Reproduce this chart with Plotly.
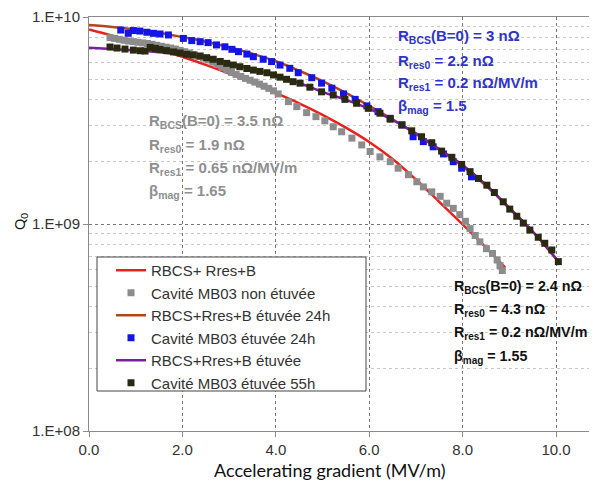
import plotly.graph_objects as go

# ---------------- data ----------------
fit_red_x = [0.0, 0.5, 1.0, 1.5, 2.0, 2.5, 3.0, 3.5, 4.0, 4.5, 5.0, 5.5, 6.0, 6.5, 7.0, 7.5, 8.0, 8.5, 8.91]
fit_red_q = [8.71e9, 8.13e9, 7.55e9, 6.98e9, 6.43e9, 5.87e9, 5.33e9, 4.81e9, 4.30e9, 3.83e9, 3.37e9, 2.92e9, 2.49e9, 2.06e9, 1.64e9, 1.28e9, 0.995e9, 0.769e9, 0.617e9]

gray_x = [0.45, 0.55, 0.65, 0.75, 0.85, 0.95, 1.05, 1.15, 1.25, 1.35, 1.45, 1.55, 1.65, 1.75,
          1.85, 1.95, 2.05, 2.15, 2.25, 2.35, 2.45, 2.55, 2.65, 2.75, 2.85, 2.95, 3.05, 3.15,
          3.25, 3.35, 3.45, 3.55, 3.65, 3.75, 3.85, 3.95, 4.05, 4.27, 4.45, 4.66, 4.86, 5.05,
          5.23, 5.41, 5.63, 5.84, 6.02, 6.23, 6.45, 6.62, 6.84, 7.02, 7.16, 7.34, 7.52, 7.66,
          7.80, 7.94, 8.06, 8.16, 8.27, 8.37, 8.51, 8.64, 8.74, 8.80, 8.85]
gray_q = [7.95e9, 7.88e9, 7.8e9, 7.72e9, 7.65e9, 7.6e9, 7.55e9, 7.5e9, 7.45e9, 7.38e9, 7.3e9, 7.22e9, 7.15e9, 7.08e9,
          7.0e9, 6.9e9, 6.8e9, 6.7e9, 6.58e9, 6.45e9, 6.33e9, 6.2e9, 6.05e9, 5.9e9, 5.72e9, 5.55e9, 5.4e9, 5.28e9,
          5.16e9, 5.05e9, 4.95e9, 4.85e9, 4.74e9, 4.63e9, 4.52e9, 4.40e9, 4.25e9, 3.90e9, 3.69e9, 3.45e9, 3.30e9, 3.15e9,
          2.95e9, 2.79e9, 2.60e9, 2.41e9, 2.24e9, 2.11e9, 2.00e9, 1.86e9, 1.73e9, 1.60e9, 1.51e9, 1.43e9, 1.36e9, 1.26e9,
          1.19e9, 1.11e9, 1.03e9, 0.95e9, 0.88e9, 0.82e9, 0.76e9, 0.72e9, 0.67e9, 0.63e9, 0.596e9]

fit_brown_x = [0.0, 0.5, 1.0, 1.5, 2.0, 2.5, 3.0, 3.5, 4.0, 4.5, 5.0, 5.5, 6.0, 6.5, 7.0, 7.5, 8.0, 8.5, 9.0, 9.5, 10.05]
fit_brown_q = [9.15e9, 8.95e9, 8.7e9, 8.4e9, 8.0e9, 7.6e9, 7.15e9, 6.64e9, 6.11e9, 5.5e9, 4.9e9, 4.3e9, 3.72e9, 3.2e9, 2.72e9, 2.28e9, 1.9e9, 1.53e9, 1.2e9, 0.92e9, 0.66e9]

blue_x = [0.68, 0.84, 0.95, 1.09, 1.24, 1.38, 1.52, 1.70, 2.02, 2.20, 2.38, 2.55, 2.73, 2.91, 3.06, 3.20,
          3.38, 3.52, 3.73, 3.91, 4.09, 4.30, 4.48, 4.77, 4.98, 5.20, 5.45, 5.70, 5.95, 6.19, 6.45, 6.70,
          6.94, 7.16, 7.37, 7.59, 7.80, 7.98, 8.19]
blue_q = [8.65e9, 8.34e9, 8.6e9, 8.55e9, 8.44e9, 8.34e9, 8.28e9, 8.19e9, 7.88e9, 7.69e9, 7.60e9, 7.52e9, 7.33e9, 7.18e9, 6.98e9, 6.80e9,
          6.62e9, 6.43e9, 6.25e9, 6.09e9, 5.86e9, 5.65e9, 5.38e9, 5.09e9, 4.79e9, 4.53e9, 4.25e9, 4.00e9, 3.72e9, 3.49e9, 3.24e9, 3.01e9,
          2.64e9, 2.50e9, 2.36e9, 2.18e9, 2.00e9, 1.86e9, 1.69e9]

fit_purple_x = [0.0, 0.5, 1.0, 1.5, 2.0, 2.5, 3.0, 3.5, 4.0, 4.5, 5.0, 5.5, 6.0, 6.5, 7.0, 7.5, 8.0, 8.5, 9.0, 9.5, 10.05]
fit_purple_q = [7.1e9, 7.0e9, 6.9e9, 6.75e9, 6.55e9, 6.35e9, 6.0e9, 5.6e9, 5.2e9, 4.8e9, 4.35e9, 3.98e9, 3.6e9, 3.18e9, 2.74e9, 2.3e9, 1.93e9, 1.55e9, 1.19e9, 0.92e9, 0.66e9]

dark_x = [0.45, 0.6, 0.77, 0.95, 1.10, 1.20, 1.31, 1.42, 1.52, 1.66, 1.81, 1.95, 2.09, 2.23, 2.38, 2.52, 2.66, 2.81,
          2.95, 3.09, 3.23, 3.38, 3.52, 3.66, 3.81, 3.95, 4.09, 4.23, 4.37, 4.52, 4.73, 4.98, 5.23, 5.48, 5.73,
          5.98, 6.23, 6.45, 6.70, 6.91, 7.12, 7.34, 7.55, 7.77, 7.98, 8.16, 8.34, 8.52, 8.68, 8.87, 9.01, 9.16,
          9.30, 9.44, 9.62, 9.76, 9.91, 10.05]
dark_q = [7.16e9, 7.08e9, 7.0e9, 6.92e9, 6.87e9, 6.85e9, 7.13e9, 7.05e9, 6.97e9, 6.88e9, 6.78e9, 6.70e9, 6.6e9, 6.55e9, 6.48e9, 6.36e9, 6.25e9, 6.1e9,
          5.97e9, 5.86e9, 5.75e9, 5.64e9, 5.54e9, 5.46e9, 5.38e9, 5.25e9, 5.12e9, 5.0e9, 4.87e9, 4.79e9, 4.58e9, 4.35e9, 4.20e9, 4.00e9, 3.83e9,
          3.62e9, 3.43e9, 3.21e9, 3.01e9, 2.82e9, 2.64e9, 2.47e9, 2.25e9, 2.10e9, 1.94e9, 1.79e9, 1.66e9, 1.54e9, 1.42e9, 1.28e9, 1.18e9, 1.09e9,
          1.01e9, 0.935e9, 0.863e9, 0.807e9, 0.749e9, 0.658e9]

y_tick_vals = [1e8, 1e9, 1e10]
y_tick_text = ["1.E+08", "1.E+09", "1.E+10"]
x_tick_vals = [0, 2, 4, 6, 8, 10]

legend_names = ["RBCS+ Rres+B", "Cavité MB03 non étuvée", "RBCS+Rres+B étuvée 24h",
                "Cavité MB03 étuvée 24h", "RBCS+Rres+B étuvée", "Cavité MB03 étuvée 55h"]

gray_block = ["R<sub>BCS</sub>(B=0) = 3.5 nΩ", "R<sub>res0</sub> = 1.9 nΩ",
              "R<sub>res1</sub> = 0.65 nΩ/MV/m", "β<sub>mag</sub> = 1.65"]
blue_block = ["R<sub>BCS</sub>(B=0) = 3 nΩ", "R<sub>res0</sub> = 2.2 nΩ",
              "R<sub>res1</sub> = 0.2 nΩ/MV/m", "β<sub>mag</sub> = 1.5"]
black_block = ["R<sub>BCS</sub>(B=0) = 2.4 nΩ", "R<sub>res0</sub> = 4.3 nΩ",
               "R<sub>res1</sub> = 0.2 nΩ/MV/m", "β<sub>mag</sub> = 1.55"]

# ---------------- geometry (page has an 8px body margin) ----------------
OFF = 8
W, H = 581, 473
PL, PT, PR, PB = 89, 17, 589, 431          # plot area in page pixels
ML, MT = PL - OFF, PT - OFF
MR = W - (PR - OFF)
MB = H - (PB - OFF)
PW, PH = PR - PL, PB - PT


def px(xp):
    return (xp - PL) / PW


def py(yp):
    return 1 - (yp - PT) / PH


FONT = "Liberation Sans, Arial, sans-serif"

fig = go.Figure()
fig.add_trace(go.Scatter(x=fit_red_x, y=fit_red_q, mode="lines", name=legend_names[0],
                         line=dict(color="#E8211C", width=2.5, shape="spline"), legendgroup="a"))
fig.add_trace(go.Scatter(x=gray_x, y=gray_q, mode="markers", name=legend_names[1],
                         marker=dict(symbol="square", size=7, color="#8C8C8C"), legendgroup="b"))
fig.add_trace(go.Scatter(x=fit_brown_x, y=fit_brown_q, mode="lines", name=legend_names[2],
                         line=dict(color="#B4441E", width=2.5, shape="spline"), legendgroup="c"))
fig.add_trace(go.Scatter(x=blue_x, y=blue_q, mode="markers", name=legend_names[3],
                         marker=dict(symbol="square", size=7, color="#1414E6"), legendgroup="d"))
fig.add_trace(go.Scatter(x=fit_purple_x, y=fit_purple_q, mode="lines", name=legend_names[4],
                         line=dict(color="#7A1F9E", width=2.5, shape="spline"), legendgroup="e"))
fig.add_trace(go.Scatter(x=dark_x, y=dark_q, mode="markers", name=legend_names[5],
                         marker=dict(symbol="square", size=7, color="#2A2A12"), legendgroup="f"))

annotations = []
for i, t in enumerate(gray_block):
    annotations.append(dict(x=px(147), y=py([121, 145, 168, 191][i]), text=t, showarrow=False,
                            xref="paper", yref="paper", xanchor="left", yanchor="middle",
                            font=dict(family=FONT, size=15, color="#8F8F8F", weight="bold")))
for i, t in enumerate(blue_block):
    annotations.append(dict(x=px(396), y=py([37, 61, 83, 106][i]), text=t, showarrow=False,
                            xref="paper", yref="paper", xanchor="left", yanchor="middle",
                            font=dict(family=FONT, size=15, color="#3034C8", weight="bold")))
for i, t in enumerate(black_block):
    annotations.append(dict(x=px(452), y=py([287, 310, 333, 357][i]), text=t, showarrow=False,
                            xref="paper", yref="paper", xanchor="left", yanchor="middle",
                            font=dict(family=FONT, size=14.3, color="#111111", weight="bold")))
annotations.append(dict(x=px(329), y=py(470), text="Accelerating gradient (MV/m)", showarrow=False,
                        xref="paper", yref="paper", xanchor="center", yanchor="middle",
                        font=dict(family="Lato, sans-serif", size=18, color="#111111")))
annotations.append(dict(x=px(20), y=py(222), text="Q<sub>0</sub>", showarrow=False, textangle=-90,
                        xref="paper", yref="paper", xanchor="center", yanchor="middle",
                        font=dict(family="Lato, sans-serif", size=14, color="#111111")))

fig.update_layout(
    width=W, height=H,
    margin=dict(l=ML, r=MR, t=MT, b=MB, pad=0),
    paper_bgcolor="white", plot_bgcolor="white",
    showlegend=True,
    legend=dict(x=px(111), y=py(254), xanchor="left", yanchor="top",
                bgcolor="rgba(0,0,0,0)", borderwidth=0,
                font=dict(family=FONT, size=15, color="#333333"),
                tracegroupgap=0, itemwidth=30),
    annotations=annotations,
    shapes=[dict(type="rect", xref="paper", yref="paper", x0=px(97), x1=px(366), y0=py(391), y1=py(257),
                 line=dict(color="#444444", width=1), fillcolor="white", layer="above")],
    xaxis=dict(range=[0, PW / 46.7], tickvals=x_tick_vals, tickformat=".1f",
               showgrid=True, gridcolor="#777777", griddash="dot", gridwidth=1,
               showline=True, linecolor="#8A8A8A", linewidth=1, mirror=True,
               ticks="outside", ticklen=5, tickcolor="#8A8A8A",
               tickfont=dict(family=FONT, size=15, color="#333333"), zeroline=False),
    yaxis=dict(type="log", range=[8, 10], tickvals=y_tick_vals, ticktext=y_tick_text,
               showgrid=True, gridcolor="#777777", griddash="dot", gridwidth=1,
               showline=True, linecolor="#8A8A8A", linewidth=1,
               ticks="outside", ticklen=5, tickcolor="#8A8A8A",
               tickfont=dict(family=FONT, size=15, color="#333333"), zeroline=False,
               minor=dict(dtick="D1", showgrid=True, gridcolor="#C8C8C8", griddash="dot", ticks="")),
)

fig.write_html("out.html")
